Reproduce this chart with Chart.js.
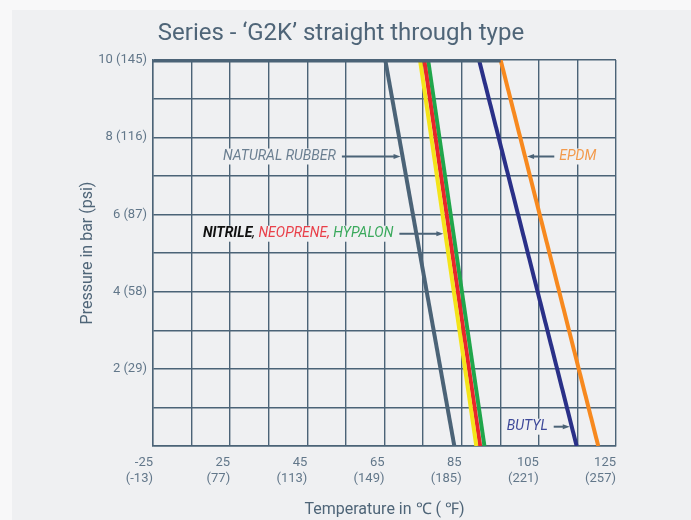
<!DOCTYPE html>
<html>
<head>
<meta charset="utf-8">
<script src="https://cdn.jsdelivr.net/npm/chart.js"></script>
<style>
  html, body { margin: 0; padding: 0; background: #f8f8f9; }
  #wrap { position: relative; width: 691px; height: 520px; overflow: hidden; }
  #bg { position: absolute; left: 12px; top: 10px; right: 0; bottom: 0; background: #eff0f2; }
  canvas { position: absolute; left: 0; top: 0; }
</style>
</head>
<body>
<div id="wrap"><div id="bg"></div><canvas id="pressureChart" width="691" height="520"></canvas></div>

<script>
    // Axis ticks (x axis is not linear below 25 degC: the -25 label sits one step left of 25)
    const xGridValues = [5, 15, 25, 35, 45, 55, 65, 75, 85, 95, 105, 115, 125];
    const xTickValues = [5, 25, 45, 65, 85, 105, 125];
    const xTickC = ['-25', '25', '45', '65', '85', '105', '125'];
    const xTickF = ['(-13)', '(77)', '(113)', '(149)', '(185)', '(221)', '(257)'];
    const yTickValues = [2, 4, 6, 8, 10];
    const yTickLabels = ['2 (29)', '4 (58)', '6 (87)', '8 (116)', '10 (145)'];

    // Materials: temperature (degC) where the line leaves 10 bar and where it reaches 0 bar
    const materials = ['NATURAL RUBBER', 'NITRILE', 'NEOPRENE', 'HYPALON', 'BUTYL', 'EPDM'];
    const tempAtMaxBar = [65.2, 74.2, 75.3, 76.3, 89.5, 95.1];
    const tempAtZeroBar = [83.1, 88.8, 89.8, 90.9, 114.8, 120.4];
    const materialColors = ['#4b6377', '#f4e419', '#e8262b', '#20a64b', '#2a3088', '#f7891f'];
    const maxBar = 10;

    // thick limit line along 10 bar
    const limitLineTemps = [5, 95.1];

    const TITLE = 'Series - \u2018G2K\u2019 straight through type';
    const SLATE = '#4b6377';
    const TICK_GREY = '#62778a';

    const datasets = materials.map((m, i) => ({
        label: m,
        data: [{x: tempAtMaxBar[i], y: maxBar}, {x: tempAtZeroBar[i], y: 0}],
        borderColor: materialColors[i],
        backgroundColor: materialColors[i],
        borderWidth: 4,
        pointRadius: 0,
        showLine: true,
        order: 2
    }));
    datasets.push({
        label: 'limit',
        data: limitLineTemps.map(t => ({x: t, y: maxBar})),
        borderColor: SLATE,
        borderWidth: 5,
        borderCapStyle: 'butt',
        pointRadius: 0,
        showLine: true,
        order: 1
    });

    // label + arrow notes, y in bar, edge = temperature where the text ends
    const notes = [
        {target: 0, y: 7.5, edge: 52.4, side: 'left', parts: [['NATURAL RUBBER', '#6b7f91', 'italic']]},
        {target: 1, y: 5.5, edge: 67.3, side: 'left', parts: [
            ['NITRILE', '#111111', 'italic bold'], [', ', '#111111', 'italic'],
            ['NEOPRENE, ', '#e9404a', 'italic'], ['HYPALON', '#3aa95c', 'italic']]},
        {target: 5, y: 7.5, edge: 110.3, side: 'right', parts: [['EPDM', '#f29a4c', 'italic']]},
        {target: 4, y: 0.5, edge: 107.3, side: 'left', parts: [['BUTYL', '#3e4999', 'italic']]}
    ];

    const notesPlugin = {
        id: 'notes',
        afterDraw(chart) {
            const ctx = chart.ctx;
            ctx.save();
            ctx.font = '24px Roboto';
            ctx.fillStyle = '#4f6578';
            ctx.textAlign = 'center';
            ctx.textBaseline = 'alphabetic';
            ctx.fillText(TITLE, 341, 39.5);
            ctx.restore();
        },
        afterDatasetsDraw(chart) {
            const ctx = chart.ctx;
            const xs = chart.scales.x, ys = chart.scales.y;
            ctx.save();
            ctx.textBaseline = 'middle';
            notes.forEach(n => {
                const py = ys.getPixelForValue(n.y);
                const t0 = tempAtMaxBar[n.target], t1 = tempAtZeroBar[n.target];
                const tx = t0 + (t1 - t0) * (maxBar - n.y) / maxBar;
                const lineX = xs.getPixelForValue(tx);
                const edgeX = xs.getPixelForValue(n.edge);
                let w = 0;
                n.parts.forEach(p => { ctx.font = p[2] + ' 14px Roboto'; w += ctx.measureText(p[0]).width; });
                let x = n.side === 'left' ? edgeX - w : edgeX;
                ctx.fillStyle = '#eff0f2';
                ctx.fillRect(x - 3, py - 8, w + 6, 16);
                n.parts.forEach(p => {
                    ctx.font = p[2] + ' 14px Roboto';
                    ctx.fillStyle = p[1];
                    ctx.textAlign = 'left';
                    ctx.fillText(p[0], x, py);
                    x += ctx.measureText(p[0]).width;
                });
                // arrow
                const start = n.side === 'left' ? edgeX + 6 : edgeX - 5;
                const dir = n.side === 'left' ? 1 : -1;
                const end = lineX - dir * 2;
                ctx.strokeStyle = SLATE;
                ctx.fillStyle = SLATE;
                ctx.lineWidth = 2;
                ctx.beginPath();
                ctx.moveTo(start, py);
                ctx.lineTo(end - dir * 6, py);
                ctx.stroke();
                ctx.beginPath();
                ctx.moveTo(end, py);
                ctx.lineTo(end - dir * 7, py - 2.5);
                ctx.lineTo(end - dir * 7, py + 2.5);
                ctx.closePath();
                ctx.fill();
            });
            ctx.restore();
        }
    };

    const chart = new Chart(document.getElementById('pressureChart'), {
        type: 'scatter',
        data: {datasets: datasets},
        plugins: [notesPlugin],
        options: {
            responsive: false,
            animation: false,
            devicePixelRatio: 1,
            layout: {padding: {left: 0, right: 75, top: 60, bottom: 0}},
            plugins: {
                legend: {display: false},
                tooltip: {enabled: false},
                title: {display: false}
            },
            scales: {
                x: {
                    type: 'linear',
                    min: 5,
                    max: 125,
                    afterBuildTicks: s => { s.ticks = xGridValues.map(v => ({value: v})); },
                    afterFit: s => { s.height = 74; },
                    grid: {color: SLATE, lineWidth: 1.4, drawTicks: false},
                    border: {color: SLATE, width: 1.4},
                    ticks: {
                        align: 'end',
                        padding: 9,
                        color: TICK_GREY,
                        font: {family: 'Roboto', size: 13},
                        maxRotation: 0,
                        autoSkip: false,
                        callback: v => {
                            const i = xTickValues.indexOf(v);
                            return i < 0 ? '' : [xTickC[i], xTickF[i]];
                        }
                    },
                    title: {
                        display: true,
                        text: 'Temperature in \u2103 ( \u2109)',
                        color: '#4f6578',
                        font: {family: 'Roboto', size: 16},
                        padding: {top: 0, bottom: 0}
                    }
                },
                y: {
                    type: 'linear',
                    min: 0,
                    max: 10,
                    afterBuildTicks: s => { s.ticks = [0,1,2,3,4,5,6,7,8,9,10].map(v => ({value: v})); },
                    afterFit: s => { s.width = 153; },
                    grid: {color: SLATE, lineWidth: 1.4, drawTicks: false},
                    border: {color: SLATE, width: 1.4},
                    ticks: {
                        padding: 6,
                        color: TICK_GREY,
                        font: {family: 'Roboto', size: 13},
                        callback: v => {
                            const i = yTickValues.indexOf(v);
                            return i < 0 ? '' : yTickLabels[i];
                        }
                    },
                    title: {
                        display: true,
                        text: 'Pressure in bar (psi)',
                        color: '#4f6578',
                        font: {family: 'Roboto', size: 16},
                        padding: {top: 78, bottom: 0}
                    }
                }
            }
        }
    });
</script>
</body>
</html>
